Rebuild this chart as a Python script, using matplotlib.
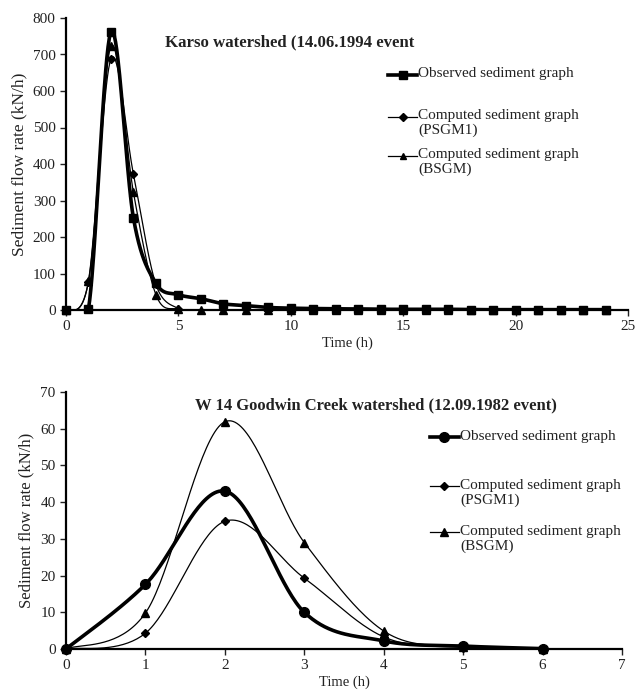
import numpy as np
import matplotlib
matplotlib.use("Agg")
import matplotlib.pyplot as plt
from matplotlib.lines import Line2D

plt.rcParams['font.family'] = ['Liberation Serif', 'DejaVu Serif']
plt.rcParams['font.size'] = 10

# Karso watershed (14.06.1994 event)
karso_t_obs = list(range(0, 25))
karso_obs = [0, 3, 762, 252, 73, 42, 31, 17, 12, 7, 5, 4, 3, 3, 2, 2, 2, 2, 1, 1, 1, 1, 1, 1, 1]
karso_t_psgm1 = [0, 1, 2, 3, 4, 5]
karso_psgm1 = [0, 78, 688, 372, 70, 3]
karso_t_bsgm = list(range(0, 25))
karso_bsgm = [0, 80, 722, 322, 42, 2] + [0] * 19

# W 14 Goodwin Creek watershed (12.09.1982 event)
gc_t = [0, 1, 2, 3, 4, 5, 6]
gc_obs = [0, 17.6, 43, 10, 2.2, 0.8, 0.1]
gc_psgm1 = [0, 4.3, 34.8, 19.3, 3.3, 0.4, 0]
gc_bsgm = [0, 9.8, 61.9, 29, 4.9, 0.5, 0]

legend_labels = ["Observed sediment graph",
                 "Computed sediment graph\n(PSGM1)",
                 "Computed sediment graph\n(BSGM)"]

TXT = '#222222'


def smooth(x, y, n=40):
    """Smoothed line through the points (cubic Bezier segments, Catmull-Rom style)."""
    x = np.asarray(x, float)
    y = np.asarray(y, float)
    pts = np.column_stack([x, y])
    out = [pts[0]]
    m = len(pts)
    for i in range(m - 1):
        p0 = pts[i - 1] if i > 0 else pts[i]
        p1 = pts[i]
        p2 = pts[i + 1]
        p3 = pts[i + 2] if i + 2 < m else pts[i + 1]
        c1 = p1 + (p2 - p0) / 6.0
        c2 = p2 - (p3 - p1) / 6.0
        t = np.linspace(0, 1, n)[1:, None]
        seg = ((1 - t) ** 3) * p1 + 3 * ((1 - t) ** 2) * t * c1 + 3 * (1 - t) * t ** 2 * c2 + t ** 3 * p2
        out.extend(seg)
    out = np.array(out)
    return out[:, 0], out[:, 1]


def series(ax, x, y, marker, lw, ms, z):
    sx, sy = smooth(x, y)
    ax.plot(sx, sy, color='black', lw=lw, zorder=z, solid_capstyle='round')
    ax.plot(x, y, ls='none', marker=marker, color='black', ms=ms, zorder=z + 0.5, clip_on=False)


def style(ax, ylab_size):
    for s in ['top', 'right']:
        ax.spines[s].set_visible(False)
    for s in ['left', 'bottom']:
        ax.spines[s].set_linewidth(1.6)
    ax.tick_params(direction='out', length=4, width=1.0, labelsize=11, colors=TXT)
    ax.set_ylabel("Sediment flow rate (kN/h)", fontsize=ylab_size, color=TXT, labelpad=4)
    ax.set_xlabel("Time (h)", fontsize=10.5, color=TXT, labelpad=2)


def legend(ax, x0, ys, markers, lws, sizes):
    for (y, lab, mk, lw, ms) in zip(ys, legend_labels, markers, lws, sizes):
        ax.add_line(Line2D([x0, x0 + 0.052], [y, y], transform=ax.transAxes,
                           color='black', lw=lw, clip_on=False))
        ax.add_line(Line2D([x0 + 0.026], [y], transform=ax.transAxes, marker=mk,
                           color='black', ms=ms, ls='none', clip_on=False))
        ax.text(x0 + 0.054, y + 0.028, lab, transform=ax.transAxes, va='top', ha='left',
                fontsize=11, linespacing=1.15, color=TXT)


fig = plt.figure(figsize=(6.35, 6.97), dpi=100)

# top panel
ax1 = fig.add_axes([66 / 635, 1 - 310 / 697, 562 / 635, 292 / 697])
series(ax1, karso_t_bsgm, karso_bsgm, '^', 0.9, 5.5, 3)
series(ax1, karso_t_psgm1, karso_psgm1, 'D', 0.9, 4.0, 4)
series(ax1, karso_t_obs, karso_obs, 's', 2.6, 6.0, 5)
ax1.set_xlim(0, 25)
ax1.set_ylim(0, 800)
ax1.set_xticks(range(0, 26, 5))
ax1.set_yticks(range(0, 801, 100))
style(ax1, 12.5)
ax1.text(165 / 635, 1 - 42 / 697, "Karso watershed (14.06.1994 event", transform=fig.transFigure,
         fontsize=12.1, fontweight='bold', va='center', ha='left', color=TXT)
legend(ax1, (388 - 66) / 562, [(310 - 75) / 292, (310 - 117) / 292, (310 - 156) / 292],
       ['s', 'D', '^'], [2.6, 0.9, 0.9], [6, 4, 5])

# bottom panel
ax2 = fig.add_axes([66 / 635, 1 - 649 / 697, 556 / 635, 257 / 697])
series(ax2, gc_t, gc_bsgm, '^', 0.9, 6, 3)
series(ax2, gc_t, gc_psgm1, 'D', 0.9, 4.5, 4)
series(ax2, gc_t, gc_obs, 'o', 2.6, 7, 5)
ax2.set_xlim(0, 7)
ax2.set_ylim(0, 70)
ax2.set_xticks(range(0, 8))
ax2.set_yticks(range(0, 71, 10))
style(ax2, 12)
ax2.text(195 / 635, 1 - 405 / 697, "W 14 Goodwin Creek watershed (12.09.1982 event)", transform=fig.transFigure,
         fontsize=12, fontweight='bold', va='center', ha='left', color=TXT)
legend(ax2, (430 - 66) / 556, [(649 - 437) / 257, (649 - 486) / 257, (649 - 532) / 257],
       ['o', 'D', '^'], [2.6, 0.9, 0.9], [7, 4.5, 6])

fig.savefig("out.png", dpi=100)
